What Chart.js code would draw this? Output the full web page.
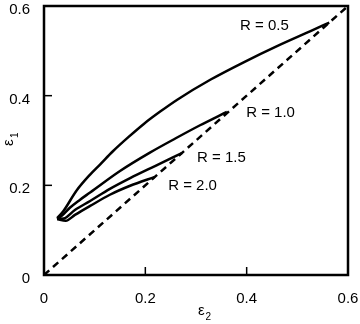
<!DOCTYPE html>
<html>
<head>
<meta charset="utf-8">
<script src="https://cdn.jsdelivr.net/npm/chart.js@4/dist/chart.umd.min.js"></script>
<style>
  html, body { margin: 0; padding: 0; background: #fff; }
  #c { display: block; }
</style>
</head>
<body>
<canvas id="c" width="360" height="324"></canvas>
<script>
// Axis ticks (both axes share the same range)
const tickValues = [0, 0.2, 0.4, 0.6];
const innerTickValues = [0.2, 0.4];

// Curve names
const seriesNames = ['R = 0.5', 'R = 1.0', 'R = 1.5', 'R = 2.0'];

// ε2 (horizontal) and ε1 (vertical) along each curve
const eps2R05 = [0.026, 0.038, 0.064, 0.091, 0.111, 0.136, 0.167, 0.197, 0.230, 0.263, 0.329, 0.395, 0.461, 0.526, 0.563];
const eps1R05 = [0.127, 0.142, 0.188, 0.224, 0.247, 0.276, 0.308, 0.337, 0.365, 0.391, 0.436, 0.475, 0.511, 0.544, 0.563];

const eps2R10 = [0.026, 0.036, 0.051, 0.070, 0.091, 0.150, 0.209, 0.260, 0.308, 0.361];
const eps1R10 = [0.125, 0.133, 0.150, 0.167, 0.184, 0.232, 0.273, 0.305, 0.334, 0.364];

const eps2R15 = [0.026, 0.039, 0.061, 0.091, 0.130, 0.170, 0.219, 0.272];
const eps1R15 = [0.125, 0.126, 0.145, 0.165, 0.192, 0.216, 0.243, 0.272];

const eps2R20 = [0.026, 0.043, 0.061, 0.091, 0.130, 0.170, 0.219];
const eps1R20 = [0.125, 0.121, 0.134, 0.154, 0.179, 0.199, 0.219];

// ε1 = ε2 reference line
const diagEps = [0, 0.6];

const curveXs = [eps2R05, eps2R10, eps2R15, eps2R20];
const curveYs = [eps1R05, eps1R10, eps1R15, eps1R20];

// Where each curve's name sits (data units, text left edge / vertical middle)
const labelPlacement = [
  { x: 0.387, y: 0.556 },
  { x: 0.399, y: 0.362 },
  { x: 0.302, y: 0.261 },
  { x: 0.245, y: 0.199 }
];

const FONT = "'Liberation Sans', Arial, Helvetica, sans-serif";

const toPoints = (xs, ys) => xs.map((v, i) => ({ x: v, y: ys[i] }));

const datasets = curveXs.map((xs, i) => ({
  label: seriesNames[i],
  data: toPoints(xs, curveYs[i]),
  showLine: true,
  borderColor: '#000',
  borderWidth: 2.5,
  pointRadius: 0,
  fill: false,
  cubicInterpolationMode: 'monotone'
}));

datasets.push({
  label: 'ε1 = ε2',
  data: toPoints(diagEps, diagEps),
  showLine: true,
  borderColor: '#000',
  borderWidth: 2.5,
  borderDash: [7, 5],
  pointRadius: 0,
  fill: false
});

// Box frame, inward tick marks, curve names and axis titles
const decorations = {
  id: 'decorations',
  afterDraw(chart) {
    const { ctx, chartArea: a, scales: { x, y } } = chart;
    ctx.save();
    ctx.strokeStyle = '#000';
    ctx.fillStyle = '#000';
    ctx.lineCap = 'butt';

    // inward tick marks
    ctx.lineWidth = 1.5;
    innerTickValues.forEach(v => {
      const px = x.getPixelForValue(v);
      ctx.beginPath(); ctx.moveTo(px, a.bottom); ctx.lineTo(px, a.bottom - 8); ctx.stroke();
      const py = y.getPixelForValue(v);
      ctx.beginPath(); ctx.moveTo(a.left, py); ctx.lineTo(a.left + 8, py); ctx.stroke();
    });

    // frame
    ctx.lineWidth = 2.5;
    ctx.strokeRect(a.left, a.top, a.right - a.left, a.bottom - a.top);

    // curve names
    ctx.font = '15px ' + FONT;
    ctx.textAlign = 'left';
    ctx.textBaseline = 'middle';
    seriesNames.forEach((name, i) => {
      const p = labelPlacement[i];
      ctx.fillText(name, x.getPixelForValue(p.x), y.getPixelForValue(p.y));
    });

    // horizontal axis title: ε2
    const cx = (a.left + a.right) / 2;
    ctx.textBaseline = 'alphabetic';
    ctx.font = '15px ' + FONT;
    ctx.fillText('ε', cx + 2, a.bottom + 40);
    ctx.font = '10px ' + FONT;
    ctx.fillText('2', cx + 9.5, a.bottom + 45);

    // vertical axis title: ε1 (rotated)
    ctx.save();
    ctx.translate(13, 146);
    ctx.rotate(-Math.PI / 2);
    ctx.font = '15px ' + FONT;
    ctx.fillText('ε', 0, 0);
    ctx.font = '10px ' + FONT;
    ctx.fillText('1', 8, 5);
    ctx.restore();

    ctx.restore();
  }
};

const tickLabel = v => (v === 0 ? '0' : v.toFixed(1));

new Chart(document.getElementById('c'), {
  type: 'scatter',
  data: { datasets },
  options: {
    responsive: false,
    animation: false,
    events: [],
    layout: { padding: { top: 6, right: 12, left: 0, bottom: 0 } },
    plugins: { legend: { display: false }, tooltip: { enabled: false } },
    scales: {
      x: {
        type: 'linear',
        min: 0,
        max: 0.6,
        afterBuildTicks: s => { s.ticks = tickValues.map(v => ({ value: v })); },
        afterFit: s => { s.height = 49; s.paddingLeft = 0; s.paddingRight = 0; s.paddingTop = 0; s.paddingBottom = 0; },
        grid: { display: false },
        border: { display: false },
        ticks: {
          color: '#000',
          font: { family: FONT, size: 15 },
          padding: 7,
          maxRotation: 0,
          autoSkip: false,
          callback: tickLabel
        }
      },
      y: {
        type: 'linear',
        min: 0,
        max: 0.6,
        afterBuildTicks: s => { s.ticks = tickValues.map(v => ({ value: v })); },
        afterFit: s => { s.width = 44; s.paddingLeft = 0; s.paddingRight = 0; s.paddingTop = 0; s.paddingBottom = 0; },
        grid: { display: false },
        border: { display: false },
        ticks: {
          color: '#000',
          font: { family: FONT, size: 15 },
          padding: 6,
          labelOffset: 4,
          autoSkip: false,
          callback: tickLabel
        }
      }
    }
  },
  plugins: [decorations]
});
</script>
</body>
</html>
